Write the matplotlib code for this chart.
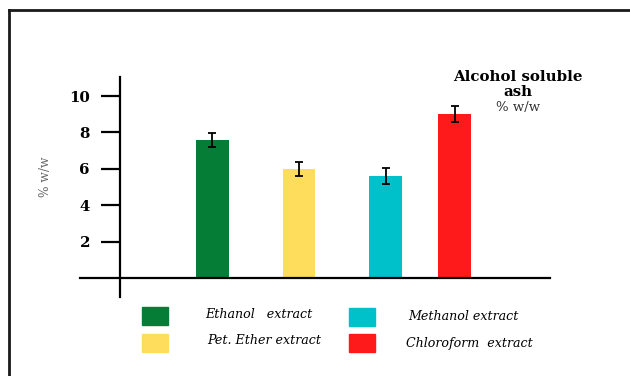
import numpy as np
import matplotlib.pyplot as plt
from matplotlib.patches import Rectangle
from matplotlib.lines import Line2D

# alcohol soluble ash of the four extracts (% w/w) and their error bars
extracts = ["Ethanol   extract", "Pet. Ether extract", "Methanol extract", "Chloroform  extract"]
ash = [7.6, 6.0, 5.6, 9.0]
ash_err = [0.38, 0.40, 0.43, 0.45]
colors = ["#067d36", "#fedc5c", "#00c1c9", "#fe1a1a"]
xpos = [0, 1, 2, 2.8]
yticks = [2, 4, 6, 8, 10]

W, H = 630, 376
fig = plt.figure(figsize=(W / 100, H / 100), dpi=100)
fig.patch.set_facecolor("white")

def fx(px):
    return px / W

def fy(py):
    return 1 - py / H

ax = fig.add_axes([fx(80), fy(297), fx(550) - fx(80), fy(77) - fy(297)])
ax.set_xlim(-1.53, 3.90)
ax.set_ylim(-1.05, 11.05)

ax.bar(xpos, ash, width=0.38, color=colors, zorder=2)
ax.errorbar(xpos, ash, yerr=ash_err, fmt="none", ecolor="black",
            elinewidth=1.3, capsize=3, capthick=1.3, zorder=3)

for s in ["top", "right"]:
    ax.spines[s].set_visible(False)
ax.spines["left"].set_position(("data", -1.07))
ax.spines["bottom"].set_position(("data", 0))
ax.spines["left"].set_linewidth(1.6)
ax.spines["bottom"].set_linewidth(1.6)
ax.set_xticks([])
ax.set_yticks(yticks)
ax.set_yticklabels([str(t) for t in yticks], family="DejaVu Serif",
                   fontweight="bold", fontsize=10.8)
ax.tick_params(axis="y", length=13.5, width=1.6, pad=8)

fig.text(fx(45), fy(177), "% w/w", rotation=90, ha="center", va="center",
         family="DejaVu Serif", fontsize=8.8, color="#666666")

# title block on the right
fig.text(fx(518), fy(77), "Alcohol soluble", ha="center", va="center",
         family="DejaVu Serif", fontweight="bold", fontsize=10.8)
fig.text(fx(518), fy(92), "ash", ha="center", va="center",
         family="DejaVu Serif", fontweight="bold", fontsize=10.8)
fig.text(fx(518), fy(107), "% w/w", ha="center", va="center",
         family="DejaVu Serif", fontsize=9.5, color="#333333")

# hand placed legend, two columns
boxes = [(142, 307), (142, 334), (349, 308), (349, 334)]
labels_at = [(205, 315), (207, 341), (408, 317), (406, 343)]
for i in range(len(extracts)):
    bx, by = boxes[i]
    fig.add_artist(Rectangle((fx(bx), fy(by + 18)), fx(26), 18 / H,
                             transform=fig.transFigure, color=colors[i]))
    tx, ty = labels_at[i]
    fig.text(fx(tx), fy(ty), extracts[i], ha="left", va="center",
             family="DejaVu Serif", style="italic", fontsize=9.1)

# outer frame, top and left edges only
fig.add_artist(Line2D([fx(9), 1], [fy(10), fy(10)], transform=fig.transFigure,
                      color="#1a1a1a", lw=2))
fig.add_artist(Line2D([fx(9), fx(9)], [fy(10), 0], transform=fig.transFigure,
                      color="#1a1a1a", lw=2))

fig.savefig("out.png", dpi=100)
